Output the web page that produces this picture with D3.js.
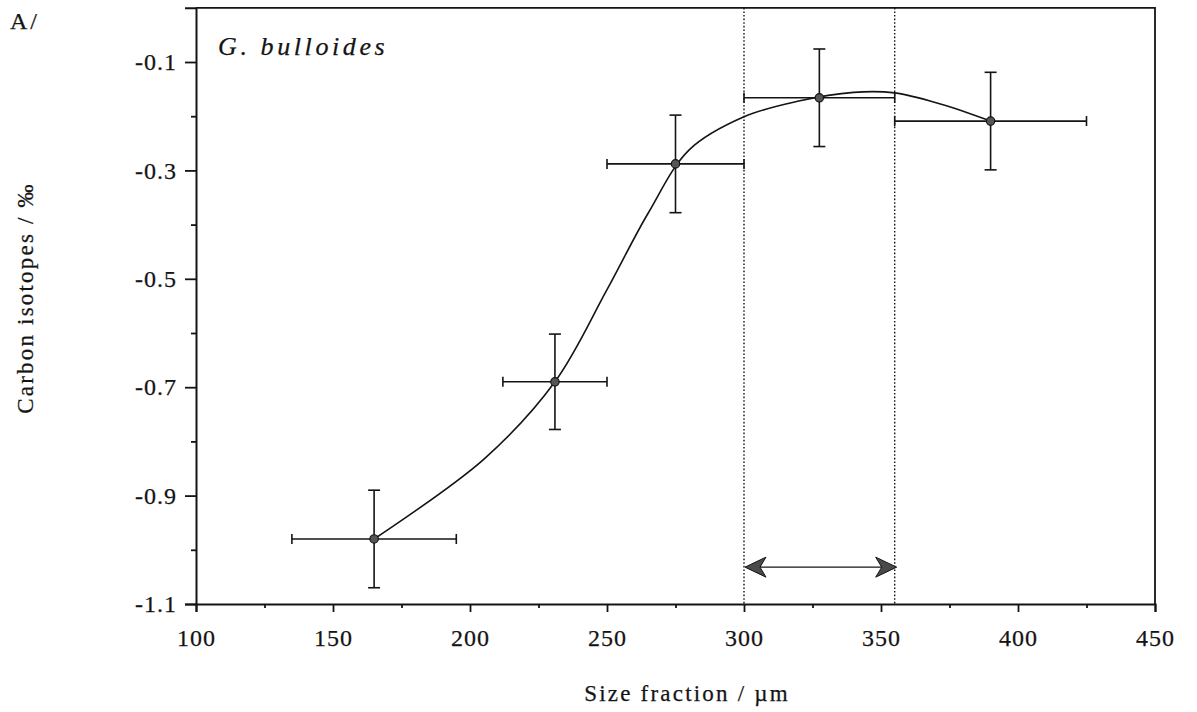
<!DOCTYPE html>
<html>
<head>
<meta charset="utf-8">
<script src="https://cdn.jsdelivr.net/npm/d3@7"></script>
<style>
  html, body { margin: 0; padding: 0; background: #fff; }
  svg { display: block; }
  text { font-family: "Liberation Serif", "Times New Roman", serif; fill: #141414; stroke: #141414; stroke-width: 0.25px; }
</style>
</head>
<body>
<svg id="chart" width="1197" height="712"></svg>
<script>
// Size fractions (µm): centre and sieve range of each sample
const sizeCentre = [165, 231, 275, 327.5, 390];
const sizeLow    = [135, 212, 250, 300, 355];
const sizeHigh   = [195, 250, 300, 355, 425];
// Carbon isotope values (‰) and their uncertainty
const d13C       = [-0.98, -0.69, -0.288, -0.166, -0.209];
const d13CErr    = [0.09, 0.088, 0.09, 0.09, 0.09];
// Smoothed trend through the samples
const trendX = [165, 205, 231, 250, 265, 280, 300, 320, 340, 355, 372, 390];
const trendY = [-0.98, -0.833, -0.69, -0.52, -0.379, -0.262, -0.201, -0.172, -0.156, -0.157, -0.178, -0.209];
// Optimum size window
const windowRange = [300, 355];
const windowArrowY = -1.032;
// Axis ticks
const xTicks = [100, 150, 200, 250, 300, 350, 400, 450];
const xMinor = [125, 175, 225, 275, 325, 375, 425];
const yTicks = [-0.1, -0.3, -0.5, -0.7, -0.9, -1.1];
const yMinor = [-0.2, -0.4, -0.6, -0.8, -1.0];

const svg = d3.select("#chart");
const x = d3.scaleLinear().domain([100, 450]).range([196, 1155]);
const y = d3.scaleLinear().domain([-1.1, 0]).range([604, 7.8]);
const ink = "#141414";

// Frame (top and right edges)
svg.append("path")
  .attr("d", `M${x(100)},${y(0)}H${x(450)}V${y(-1.1)}`)
  .attr("fill", "none").attr("stroke", ink).attr("stroke-width", 1.8);

// Axes
const xAxis = svg.append("g").attr("transform", `translate(0,${y(-1.1)})`)
  .call(d3.axisBottom(x).tickValues(xTicks).tickSize(8).tickPadding(17).tickFormat(d3.format("d")));
svg.append("g").attr("transform", `translate(0,${y(-1.1)})`)
  .call(d3.axisBottom(x).tickValues(xMinor).tickSize(4).tickFormat(""))
  .select(".domain").remove();
const yAxis = svg.append("g").attr("transform", `translate(${x(100)},0)`)
  .call(d3.axisLeft(y).tickValues(yTicks).tickSize(11).tickPadding(8).tickFormat(d3.format(".1f")));
svg.append("g").attr("transform", `translate(${x(100)},0)`)
  .call(d3.axisLeft(y).tickValues(yMinor).tickSize(5).tickFormat(""))
  .select(".domain").remove();

svg.selectAll(".domain").attr("stroke", ink).attr("stroke-width", 2);
svg.selectAll(".tick line").attr("stroke", ink).attr("stroke-width", 1.8);
svg.selectAll(".tick text")
  .attr("fill", ink)
  .style("font-family", '"Liberation Serif", "Times New Roman", serif')
  .style("font-size", "24px")
  .style("letter-spacing", "1px");
xAxis.selectAll(".tick text").attr("dy", "0.71em");
yAxis.selectAll(".tick text").text(d => d3.format(".1f")(d).replace("−", "-"));

// Dotted bounds of the size window
svg.selectAll(".window-edge").data(windowRange).join("line")
  .attr("class", "window-edge")
  .attr("x1", d => x(d)).attr("x2", d => x(d))
  .attr("y1", y(0)).attr("y2", y(-1.1))
  .attr("stroke", ink).attr("stroke-width", 1.4)
  .attr("stroke-dasharray", "1.6,2");

// Double-headed arrow across the window
const ay = y(windowArrowY);
const ax0 = x(windowRange[0]) + 1, ax1 = x(windowRange[1]) + 2;
svg.append("line")
  .attr("x1", ax0 + 14).attr("x2", ax1 - 14).attr("y1", ay).attr("y2", ay)
  .attr("stroke", ink).attr("stroke-width", 1.3);
function head(tipX, dir) {
  const L = 21, H = 10, N = 15;
  return `M${tipX},${ay}L${tipX + dir * L},${ay - H}L${tipX + dir * N},${ay}L${tipX + dir * L},${ay + H}Z`;
}
svg.append("path").attr("d", head(ax0, 1)).attr("fill", "#4a4a4a").attr("stroke", ink).attr("stroke-width", 1);
svg.append("path").attr("d", head(ax1, -1)).attr("fill", "#4a4a4a").attr("stroke", ink).attr("stroke-width", 1);

// Trend curve
const trend = trendX.map((v, i) => [v, trendY[i]]);
svg.append("path")
  .attr("d", d3.line().x(d => x(d[0])).y(d => y(d[1])).curve(d3.curveCatmullRom.alpha(0.5))(trend))
  .attr("fill", "none").attr("stroke", ink).attr("stroke-width", 1.6);

// Error bars and sample points
const samples = sizeCentre.map((c, i) => ({ c, lo: sizeLow[i], hi: sizeHigh[i], v: d13C[i], e: d13CErr[i] }));
const g = svg.append("g").attr("stroke", ink).attr("stroke-width", 1.6).attr("fill", "none");
samples.forEach(s => {
  const cx = x(s.c), cy = y(s.v);
  const top = y(s.v + s.e), bot = y(s.v - s.e);
  g.append("line").attr("x1", x(s.lo)).attr("x2", x(s.hi)).attr("y1", cy).attr("y2", cy);
  g.append("line").attr("x1", x(s.lo)).attr("x2", x(s.lo)).attr("y1", cy - 5).attr("y2", cy + 5);
  g.append("line").attr("x1", x(s.hi)).attr("x2", x(s.hi)).attr("y1", cy - 5).attr("y2", cy + 5);
  g.append("line").attr("x1", cx).attr("x2", cx).attr("y1", top).attr("y2", bot);
  g.append("line").attr("x1", cx - 6).attr("x2", cx + 6).attr("y1", top).attr("y2", top);
  g.append("line").attr("x1", cx - 6).attr("x2", cx + 6).attr("y1", bot).attr("y2", bot);
});
svg.selectAll(".pt").data(samples).join("circle")
  .attr("class", "pt")
  .attr("cx", d => x(d.c)).attr("cy", d => y(d.v)).attr("r", 4.2)
  .attr("fill", "#555").attr("stroke", ink).attr("stroke-width", 1.2);

// Labels
svg.append("text").attr("x", 10).attr("y", 29)
  .style("font-size", "24px").style("letter-spacing", "3px").text("A/");
svg.append("text").attr("x", 218).attr("y", 55)
  .style("font-size", "26px").style("font-style", "italic").style("letter-spacing", "3.6px")
  .text("G.  bulloides");
svg.append("text").attr("x", 687).attr("y", 701).attr("text-anchor", "middle")
  .style("font-size", "23px").style("letter-spacing", "2.2px")
  .text("Size fraction / µm");
svg.append("text").attr("transform", "translate(33,298) rotate(-90)").attr("text-anchor", "middle")
  .style("font-size", "23px").style("letter-spacing", "2.2px")
  .text("Carbon isotopes / ‰");
</script>
</body>
</html>
